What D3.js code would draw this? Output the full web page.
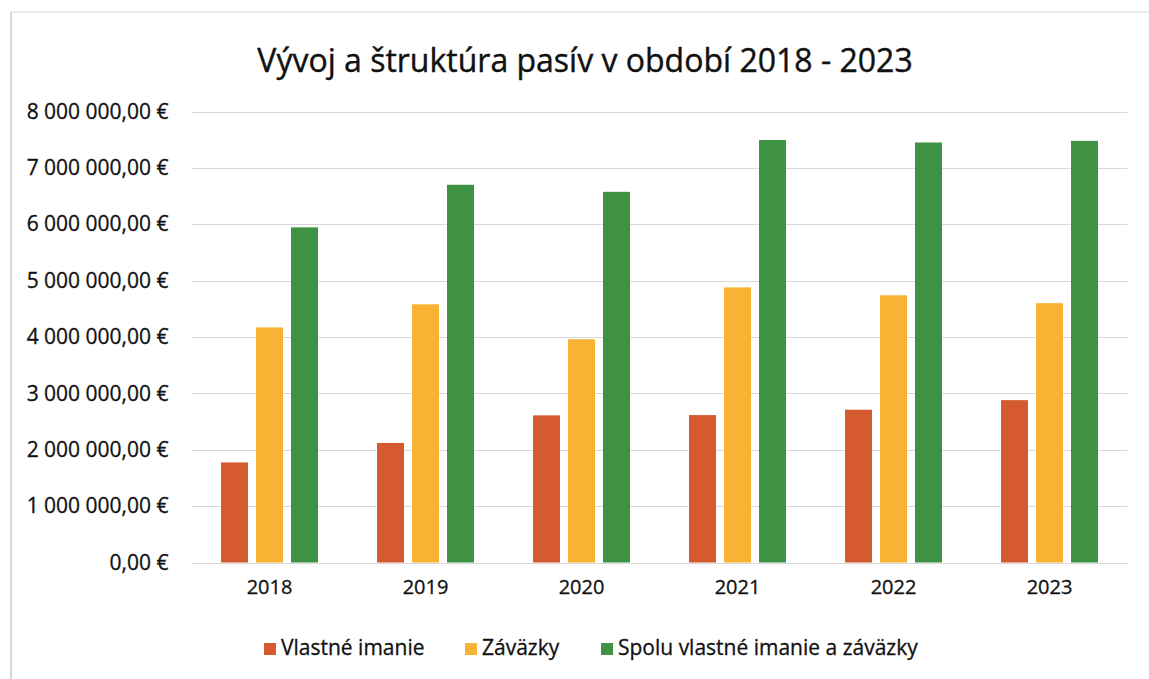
<!DOCTYPE html>
<html>
<head>
<meta charset="utf-8">
<script src="https://cdn.jsdelivr.net/npm/d3@7"></script>
<style>
  body { margin: 0; background: #fff; }
  svg { display: block; font-family: "Open Sans", sans-serif; }
</style>
</head>
<body>
<div id="chart"></div>
<script>
const years = ["2018", "2019", "2020", "2021", "2022", "2023"];
const vlastneImanie = [1775000, 2120000, 2610000, 2615000, 2710000, 2880000];
const zavazky = [4170000, 4580000, 3960000, 4880000, 4740000, 4600000];
const spolu = [5945000, 6700000, 6575000, 7495000, 7450000, 7480000];
const seriesNames = ["Vlastné imanie", "Záväzky", "Spolu vlastné imanie a záväzky"];
const seriesColors = ["#d65a30", "#f8b234", "#3f9244"];
const yTicks = [0, 1000000, 2000000, 3000000, 4000000, 5000000, 6000000, 7000000, 8000000];
const title = "Vývoj a štruktúra pasív v období 2018 - 2023";

const width = 1149;
const height = 679;
const plot = { left: 191.5, right: 1127.5, top: 111.5, bottom: 562.5 };

const svg = d3.select("#chart")
  .append("svg")
  .attr("width", width)
  .attr("height", height);

// faint scan border
svg.append("line")
  .attr("x1", 11).attr("x2", 11).attr("y1", 12).attr("y2", height)
  .attr("stroke", "#d8d8d8").attr("stroke-width", 2);
svg.append("line")
  .attr("x1", 11).attr("x2", width).attr("y1", 12).attr("y2", 12)
  .attr("stroke", "#e4e4e4").attr("stroke-width", 1.5);

const x0 = d3.scaleBand()
  .domain(years)
  .range([plot.left, plot.right]);

const x1 = d3.scaleBand()
  .domain(seriesNames)
  .range([x0.bandwidth() / 2 - 52.5, x0.bandwidth() / 2 + 52.5])
  .paddingInner(8 / 35)
  .paddingOuter(4 / 35);

const y = d3.scaleLinear()
  .domain([0, 8000000])
  .range([plot.bottom, plot.top]);

const locale = d3.formatLocale({
  decimal: ",",
  thousands: " ",
  grouping: [3],
  currency: ["", " €"]
});
const fmt = locale.format("$,.2f");

// gridlines
svg.append("g")
  .selectAll("line")
  .data(yTicks)
  .join("line")
  .attr("x1", plot.left)
  .attr("x2", plot.right)
  .attr("y1", d => Math.round(y(d)) + 0.5)
  .attr("y2", d => Math.round(y(d)) + 0.5)
  .attr("stroke", "#d9d9d9")
  .attr("stroke-width", 1.2);

// y axis labels
const yAxis = svg.append("g")
  .attr("transform", `translate(${plot.left - 10},0)`)
  .call(d3.axisLeft(y).tickValues(yTicks).tickFormat(fmt).tickSize(0).tickPadding(13));
yAxis.select(".domain").remove();
yAxis.selectAll("text")
  .attr("fill", "#111")
  .attr("stroke", "#111")
  .attr("stroke-width", 0.3)
  .style("font-size", "21px")
  .style("font-family", "'Open Sans', sans-serif");

// x axis labels
const xAxis = svg.append("g")
  .attr("transform", `translate(0,${plot.bottom})`)
  .call(d3.axisBottom(x0).tickSize(0).tickPadding(17));
xAxis.select(".domain").remove();
xAxis.selectAll("text")
  .attr("fill", "#111")
  .attr("stroke", "#111")
  .attr("stroke-width", 0.3)
  .style("font-size", "20px")
  .style("font-family", "'Open Sans', sans-serif");

// bars
const rows = years.map((yr, i) => ({
  year: yr,
  values: [vlastneImanie[i], zavazky[i], spolu[i]]
}));

svg.append("g")
  .selectAll("g")
  .data(rows)
  .join("g")
  .attr("transform", d => `translate(${x0(d.year)},0)`)
  .selectAll("rect")
  .data(d => d.values.map((v, k) => ({ key: seriesNames[k], value: v, color: seriesColors[k] })))
  .join("rect")
  .attr("x", d => x1(d.key))
  .attr("y", d => y(d.value))
  .attr("width", x1.bandwidth())
  .attr("height", d => y(0) - y(d.value))
  .attr("fill", d => d.color);

// title
svg.append("text")
  .attr("x", 585)
  .attr("y", 72)
  .attr("text-anchor", "middle")
  .attr("fill", "#111")
  .attr("stroke", "#111")
  .attr("stroke-width", 0.4)
  .style("font-size", "32px")
  .text(title);

// legend
const legendX = [264, 465, 601];
const legend = svg.append("g")
  .selectAll("g")
  .data(seriesNames)
  .join("g")
  .attr("transform", (d, i) => `translate(${legendX[i]},643)`);

legend.append("rect")
  .attr("width", 12)
  .attr("height", 12)
  .attr("fill", (d, i) => seriesColors[i]);

legend.append("text")
  .attr("x", 17)
  .attr("y", 12)
  .attr("fill", "#111")
  .attr("stroke", "#111")
  .attr("stroke-width", 0.3)
  .style("font-size", "21px")
  .text(d => d);
</script>
</body>
</html>
